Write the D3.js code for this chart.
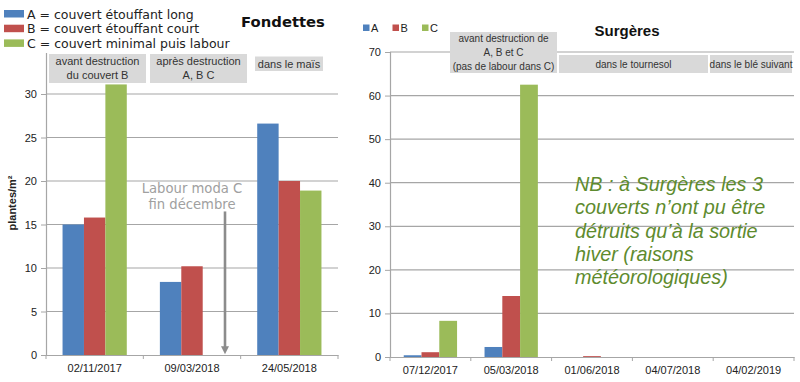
<!DOCTYPE html>
<html><head><meta charset="utf-8">
<script src="https://cdn.jsdelivr.net/npm/d3@7"></script>
<style>body{margin:0;background:#fff}svg{display:block}</style>
</head><body>
<svg id="c" width="800" height="382"></svg>
<script>
// ---- data ----
const seriesKeys = ["A","B","C"];
const seriesColors = ["#4f81bd","#c0504d","#9bbb59"];
const legendLabels = ["A = couvert étouffant long","B = couvert étouffant court","C = couvert minimal puis labour"];

const fondDates = ["02/11/2017","09/03/2018","24/05/2018"];
const fondA = [15, 8.4, 26.6];
const fondB = [15.8, 10.2, 20];
const fondC = [31.1, 0, 18.9];
const fondTicks = [0,5,10,15,20,25,30];
const fondPhases = [["avant destruction","du couvert B"],["après destruction","A, B C"],["dans le maïs"]];

const surgDates = ["07/12/2017","05/03/2018","01/06/2018","04/07/2018","04/02/2019"];
const surgA = [0.4, 2.3, 0, 0, 0];
const surgB = [1.1, 14, 0.2, 0, 0];
const surgC = [8.3, 62.5, 0, 0, 0];
const surgTicks = [0,10,20,30,40,50,60,70];
const surgPhases = [["avant destruction de","A, B et C","(pas de labour dans C)"],["dans le tournesol"],["dans le blé suivant"]];

const nbLines = ["NB : à Surgères les 3","couverts n’ont pu être","détruits qu’à la sortie","hiver (raisons","météorologiques)"];
const labourLines = ["Labour moda C","fin décembre"];

const svg = d3.select("#c");
const gridCol = "#a6a6a6";
const axFont = "'Liberation Sans', Arial, sans-serif";

function drawChart(cfg){
  const x = d3.scaleBand().domain(cfg.dates).range([cfg.x0, cfg.x1]);
  const y = d3.scaleLinear().domain([0, cfg.ymax]).range([cfg.yb, cfg.yt]);
  const g = svg.append("g");
  // gridlines
  g.selectAll("line.grid").data(cfg.ticks.filter(t => t>0)).join("line")
    .attr("x1", cfg.x0).attr("x2", cfg.x1).attr("y1", d=>y(d)).attr("y2", d=>y(d))
    .attr("stroke", gridCol).attr("stroke-width",1.2);
  // y axis
  const ya = g.append("g").attr("transform",`translate(${cfg.x0},0)`)
    .call(d3.axisLeft(y).tickValues(cfg.ticks).tickSize(5).tickPadding(4).tickFormat(d3.format("d")));
  ya.select(".domain").attr("stroke", gridCol).attr("stroke-width",1.2);
  ya.selectAll(".tick line").attr("stroke", gridCol);
  ya.selectAll("text").attr("font-family",axFont).attr("font-size",11).attr("fill","#222");
  // x axis
  const xa = g.append("g").attr("transform",`translate(0,${cfg.yb})`)
    .call(d3.axisBottom(x).tickSize(0).tickPadding(9));
  xa.select(".domain").attr("stroke", gridCol).attr("stroke-width",1.2);
  xa.selectAll("text").attr("font-family",axFont).attr("font-size",11).attr("fill","#222");
  // boundary ticks
  const bounds = cfg.dates.map(d => x(d)).concat([cfg.x1]);
  g.selectAll("line.bt").data(bounds).join("line")
    .attr("x1", d=>d).attr("x2", d=>d).attr("y1", cfg.yb).attr("y2", cfg.yb+4)
    .attr("stroke", gridCol);
  // bars
  const bw = x.bandwidth()*0.22;
  const off = (x.bandwidth()-3*bw)/2;
  const x1 = d3.scaleBand().domain(seriesKeys).range([off, off+3*bw]);
  cfg.series.forEach((vals, si) => {
    g.selectAll(null).data(vals.map((v,i)=>({v, d:cfg.dates[i]}))).join("rect")
      .attr("x", d => x(d.d)+x1(seriesKeys[si]))
      .attr("width", x1.bandwidth())
      .attr("y", d => y(d.v))
      .attr("height", d => y(0)-y(d.v))
      .attr("fill", seriesColors[si]);
  });
  return {x,y,g};
}

// ---- Fondettes ----
const L = drawChart({dates:fondDates, x0:46, x1:338, yb:355, yt:50.5, ymax:35, ticks:fondTicks,
  series:[fondA,fondB,fondC]});
// ---- Surgères ----
const R = drawChart({dates:surgDates, x0:390, x1:794, yb:357, yt:52, ymax:70, ticks:surgTicks,
  series:[surgA,surgB,surgC]});

// y title
svg.append("text").attr("transform","translate(16,203) rotate(-90)")
  .attr("text-anchor","middle").attr("font-family",axFont).attr("font-weight","bold")
  .attr("font-size",11).attr("fill","#222").text("plantes/m²");

// legend left (white background)
svg.append("rect").attr("x",0).attr("y",0).attr("width",238).attr("height",53).attr("fill","#fff");
const lg = svg.append("g");
legendLabels.forEach((t,i)=>{
  lg.append("rect").attr("x",4).attr("y",10+i*14.7).attr("width",20).attr("height",7.5).attr("fill",seriesColors[i]);
  lg.append("text").attr("x",27).attr("y",18.5+i*14.7).attr("font-family","'DejaVu Sans', Verdana, sans-serif")
    .attr("font-size",12.5).attr("fill","#222").text(t);
});

// titles
svg.append("text").attr("x",283).attr("y",27).attr("text-anchor","middle")
  .attr("font-family","'DejaVu Sans', Verdana, sans-serif").attr("font-weight","bold").attr("font-size",14.8)
  .attr("fill","#111").text("Fondettes");
svg.append("text").attr("x",627).attr("y",36).attr("text-anchor","middle")
  .attr("font-family",axFont).attr("font-weight","bold").attr("font-size",15)
  .attr("fill","#111").text("Surgères");

// right legend
seriesKeys.forEach((k,i)=>{
  const lx = 363 + i*29.5;
  svg.append("rect").attr("x",lx).attr("y",24.5).attr("width",6.5).attr("height",6.5).attr("fill",seriesColors[i]);
  svg.append("text").attr("x",lx+8).attr("y",32).attr("font-family",axFont).attr("font-size",11)
    .attr("fill","#222").text(k);
});

// phase boxes
function phaseBox(x0,x1,y0,y1,lines,fs,lh){
  svg.append("rect").attr("x",x0).attr("y",y0).attr("width",x1-x0).attr("height",y1-y0).attr("fill","#d9d9d9");
  const cy = (y0+y1)/2;
  const n = lines.length;
  lines.forEach((t,i)=>{
    svg.append("text").attr("x",(x0+x1)/2).attr("y", cy + (i-(n-1)/2)*lh + fs*0.35)
      .attr("text-anchor","middle").attr("font-family",axFont).attr("font-size",fs)
      .attr("fill","#333").text(t);
  });
}
phaseBox(49,146,54,83,fondPhases[0],11,14);
phaseBox(150,247,54,83,fondPhases[1],11,14);
phaseBox(255,323,56.5,71,fondPhases[2],11,14);
phaseBox(450,557,32,73,surgPhases[0],10,13.8);
phaseBox(559,708,55,73,surgPhases[1],10,13);
phaseBox(710,792,55,73,surgPhases[2],10,13);

// Labour annotation
labourLines.forEach((t,i)=>{
  svg.append("text").attr("x",192).attr("y",193+i*16).attr("text-anchor","middle")
    .attr("font-family","'DejaVu Sans', Verdana, sans-serif").attr("font-size",13.2)
    .attr("fill","#a0a0a0").text(t);
});
svg.append("line").attr("x1",225).attr("x2",225).attr("y1",L.y(16.5)).attr("y2",L.y(0.9))
  .attr("stroke","#8c8c8c").attr("stroke-width",2.6);
svg.append("path").attr("d",`M${225-4},${L.y(0.9)-1} L${225+4},${L.y(0.9)-1} L225,${L.y(0.1)} Z`).attr("fill","#8c8c8c");

// NB annotation
nbLines.forEach((t,i)=>{
  svg.append("text").attr("x",575).attr("y",191+i*23.3)
    .attr("font-family",axFont).attr("font-style","italic").attr("font-size",19.8)
    .attr("fill","#5e8b2e").text(t);
});
</script>
</body></html>
